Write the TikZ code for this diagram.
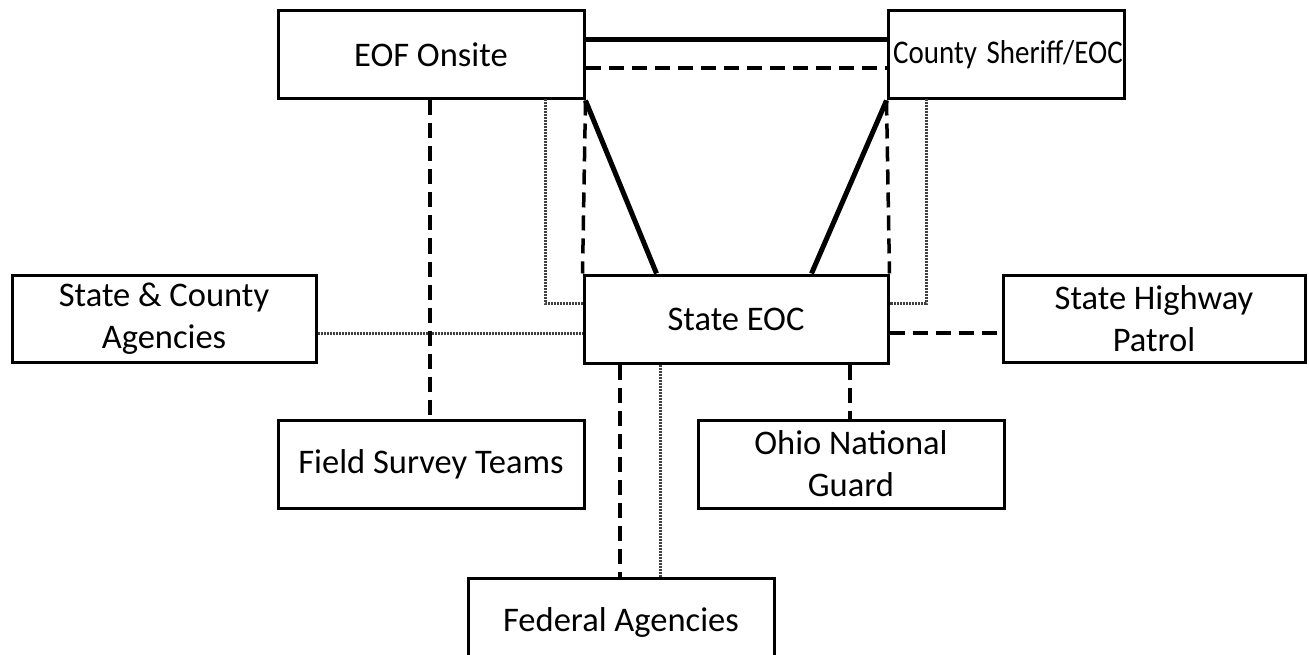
\documentclass[tikz,border=0pt]{standalone}
\usepackage{fontspec}
\setmainfont{Carlito}
\begin{document}
\begin{tikzpicture}[x=1pt,y=-1pt,
  box/.style={draw=black, line width=3pt, fill=white, inner sep=0pt, align=center,
    font=\fontsize{34.5}{42}\selectfont},
  solidl/.style={line width=5pt},
  dashl/.style={line width=3.5pt, dash pattern=on 15pt off 8pt},
  dotl/.style={line width=3pt, draw=black!75, dash pattern=on 2pt off 1pt}]
\useasboundingbox (0,0) rectangle (1309,655);
\fill[white] (0,0) rectangle (1309,655);
\coordinate (a1) at (545,99);
\coordinate (a2) at (926,99);
% nodes
\node[box, minimum width=306pt, minimum height=88pt] (eof) at (431,55) {\raisebox{-3pt}{EOF Onsite}};
\node[box, minimum width=236pt, minimum height=88pt, text width=236pt] (cty) at (1006,55) {\hspace*{4pt}\raisebox{-3pt}{\scalebox{0.84}[0.96]{County Sheriff/EOC}}};
\node[box, minimum width=304pt, minimum height=88pt] (seoc) at (736,319) {State EOC};
\node[box, minimum width=304pt, minimum height=87pt] (sca) at (164,318.5) {State \& County\\Agencies};
\node[box, minimum width=302pt, minimum height=87pt] (shp) at (1154,318.5) {State Highway\\Patrol};
\node[box, minimum width=306pt, minimum height=88pt] (fst) at (431,464) {Field Survey Teams};
\node[box, minimum width=306pt, minimum height=88pt] (ong) at (851,464) {Ohio National\\Guard};
\node[box, minimum width=306pt, minimum height=88pt] (fed) at (621,622) {Federal Agencies};
% EOF - County
\draw[solidl] (eof.east |- 0,40) -- (cty.west |- 0,40);
\draw[dashl] (eof.east |- 0,68) -- (cty.west |- 0,68);
% diagonals
\draw[solidl] (eof.south east) -- ([xshift=74pt]seoc.north west);
\draw[solidl] (cty.south west) -- ([xshift=-78pt]seoc.north east);
% dashed verticals
\draw[dashl] (eof.south east) -- (seoc.north west);
\draw[dashl] (cty.south west) -- (seoc.north east);
% dotted elbows
\draw[dotl] (a1) -- (545,303) -- (seoc.west |- 0,303);
\draw[dotl] (a2) -- (926,303) -- (seoc.east |- 0,303);
% side links
\draw[dotl] (sca.east |- 0,333) -- (seoc.west |- 0,333);
\draw[dashl] (seoc.east |- 0,333) -- (shp.west |- 0,333);
% down links
\draw[dashl] (eof.south -| 430,0) -- (fst.north -| 430,0);
\draw[dashl] (seoc.south -| 850,0) -- (ong.north -| 850,0);
\draw[dashl] (seoc.south -| 620,0) -- (fed.north -| 620,0);
\draw[dotl] (seoc.south -| 660,0) -- (fed.north -| 660,0);
\end{tikzpicture}
\end{document}
